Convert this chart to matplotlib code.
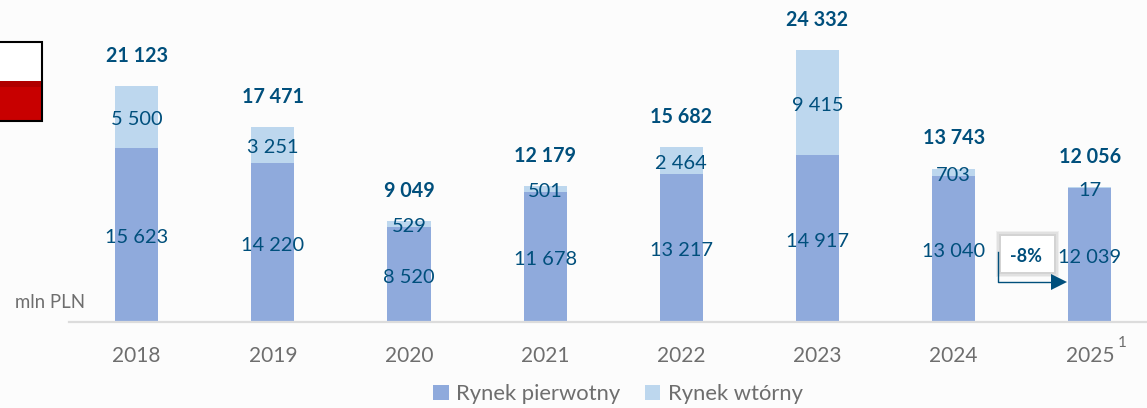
import numpy as np
import matplotlib
matplotlib.use('Agg')
import matplotlib.pyplot as plt
from matplotlib.patches import Rectangle, Polygon
from matplotlib.lines import Line2D

plt.rcParams['font.family'] = ['Lato', 'DejaVu Sans']

years = ['2018', '2019', '2020', '2021', '2022', '2023', '2024', '2025']
primary = [15623, 14220, 8520, 11678, 13217, 14917, 13040, 12039]
secondary = [5500, 3251, 529, 501, 2464, 9415, 703, 17]
totals = [21123, 17471, 9049, 12179, 15682, 24332, 13743, 12056]

W, H = 1147, 408
BG = '#FCFCFC'
DARK = '#8FAADC'
LIGHT = '#BDD7EE'
NAVY = '#004F7C'
GREY = '#6E6E6E'


def fmt(v):
    return f'{v:,}'.replace(',', ' ')


def px_x(x):
    return x / W


def px_y(y):
    return 1 - y / H


def px_rect(x0, y0, x1, y1, **kw):
    # rectangle on the figure, given in pixels from the top left corner
    r = Rectangle((px_x(x0), px_y(y1)), (x1 - x0) / W, (y1 - y0) / H,
                  transform=fig.transFigure, **kw)
    fig.add_artist(r)
    return r


fig = plt.figure(figsize=(W / 100, H / 100), dpi=100, facecolor=BG)
ax = fig.add_axes([px_x(69), px_y(322), (W - 69) / W, 322 / H])
ax.set_facecolor('none')

x = np.arange(len(years))
ax.bar(x, primary, width=0.316, color=DARK, label='Rynek pierwotny')
ax.bar(x, secondary, width=0.316, bottom=primary, color=LIGHT,
       label='Rynek wtórny')

ax.set_xlim(-0.497, 7.42)
ax.set_ylim(0, 28830)
ax.set_yticks([])
ax.set_xticks(x)
ax.set_xticklabels(years, fontsize=15, color=GREY)
ax.tick_params(axis='x', length=0, pad=17)
for s in ['top', 'left', 'right']:
    ax.spines[s].set_visible(False)
ax.spines['bottom'].set_color('#DCDCDC')
ax.spines['bottom'].set_linewidth(1.6)

for i in range(len(years)):
    ax.annotate(fmt(primary[i]), (i, primary[i] / 2), xytext=(0, -2),
                textcoords='offset points', ha='center', va='center',
                fontsize=14.4, color=NAVY)
    ax.annotate(fmt(secondary[i]), (i, primary[i] + secondary[i] / 2),
                xytext=(0, -2), textcoords='offset points', ha='center',
                va='center', fontsize=14.4, color=NAVY)
    ax.annotate(fmt(totals[i]), (i, primary[i] + secondary[i]), xytext=(0, 21.8),
                textcoords='offset points', ha='center', va='center',
                fontsize=14.2, fontweight='bold', color=NAVY)

fig.text(px_x(15), px_y(302), 'mln PLN', fontsize=13.4, color=GREY, va='center')
fig.text(px_x(1118), px_y(343), '1', fontsize=11, color=GREY, va='center')

# flag cut off by the left edge
px_rect(-5, 42, 42, 81, facecolor='white', edgecolor='none')
px_rect(-5, 81, 42, 121, facecolor='#C80000', edgecolor='none')
px_rect(-5, 81, 42, 87, facecolor='#B00000', edgecolor='none')
px_rect(-5, 42, 42, 121, facecolor='none', edgecolor='black', linewidth=1.5)

# change callout between the last two bars
for grow, alpha in [(5, 0.1), (4, 0.12), (2, 0.14)]:
    px_rect(1001 - grow, 236 - grow, 1054 + grow, 272 + grow,
            facecolor='#808080', edgecolor='none', alpha=alpha)
px_rect(1001, 236, 1054, 272, facecolor='white', edgecolor='none')
fig.add_artist(Line2D([px_x(998), px_x(998), px_x(1052)],
                      [px_y(252), px_y(282), px_y(282)],
                      transform=fig.transFigure, color=NAVY, linewidth=1))
fig.add_artist(Polygon([(px_x(1051), px_y(274)), (px_x(1051), px_y(290)),
                        (px_x(1067), px_y(282))], transform=fig.transFigure,
                       facecolor=NAVY, edgecolor='none'))
fig.text(px_x(1026), px_y(256), '-8%', fontsize=13, fontweight='bold',
         color=NAVY, ha='center', va='center')

fig.legend(loc='center', bbox_to_anchor=(px_x(618), px_y(394)), ncol=2,
           frameon=False, fontsize=15.8, labelcolor=GREY, handlelength=0.7,
           handleheight=0.7, handletextpad=0.35, columnspacing=1.1)

fig.savefig('out.png', dpi=100, facecolor=BG)
